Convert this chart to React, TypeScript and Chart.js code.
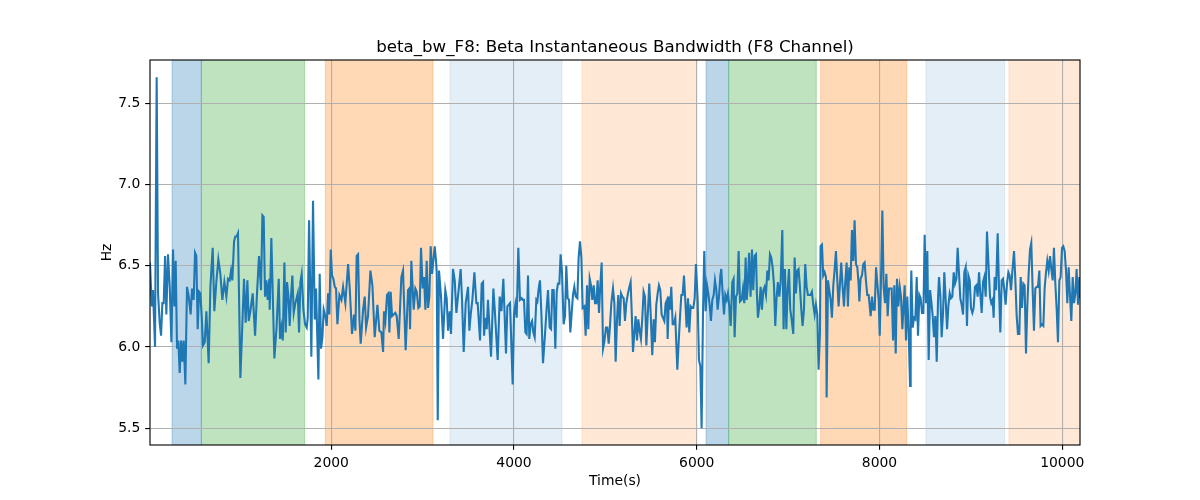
import React, { useEffect, useRef } from "react";
import { Chart, registerables } from "chart.js";

Chart.register(...registerables);

const TITLE = "beta_bw_F8: Beta Instantaneous Bandwidth (F8 Channel)";
const X_LABEL = "Time(s)";
const Y_LABEL = "Hz";

const timeS = [
  16, 35, 49, 71, 89, 104, 122, 137, 151, 166,
  181, 195, 213, 232, 250, 268, 283, 297, 312, 326,
  341, 356, 370, 385, 403, 421, 440, 461, 476, 494,
  509, 523, 538, 553, 567, 582, 596, 615, 633, 658,
  677, 702, 720, 742, 764, 786, 808, 830, 852, 870,
  888, 903, 917, 936, 950, 965, 979, 1005, 1045, 1063,
  1082, 1096, 1114, 1140, 1166, 1187, 1209, 1231, 1246, 1260,
  1275, 1290, 1304, 1322,
  1326, 1344, 1377, 1401, 1425, 1439, 1454, 1469, 1487, 1501,
  1516, 1531, 1545, 1556, 1574, 1589, 1607, 1633, 1647, 1662,
  1676, 1695, 1713, 1731, 1742, 1757, 1782, 1800, 1819, 1833,
  1859, 1873, 1888, 1903, 1917, 1935, 1950, 1965, 1979, 1994,
  2008, 2023, 2038, 2052, 2067, 2089, 2111, 2129, 2154, 2184,
  2202, 2227, 2249, 2264, 2278, 2293, 2308, 2322, 2348, 2366,
  2381, 2402, 2428, 2450, 2475, 2505, 2526, 2548, 2567, 2577,
  2592, 2610, 2625,
  2636, 2650, 2665, 2683, 2701, 2716, 2738, 2767, 2785, 2814,
  2840, 2854, 2862, 2876, 2902, 2920, 2935, 2953, 2968, 2982,
  3000, 3015, 3030, 3044, 3059, 3073, 3088, 3103, 3132, 3146,
  3154, 3165, 3179, 3201, 3223, 3248, 3263, 3278, 3296, 3310,
  3332, 3351, 3369, 3416, 3431, 3449, 3471, 3497, 3511, 3526,
  3544, 3566, 3588, 3602, 3628, 3646, 3661, 3672, 3686, 3701,
  3715, 3748, 3774, 3788, 3821, 3843, 3862, 3883, 3912, 3927,
  3956, 3985, 4000, 4014, 4029, 4047, 4065, 4084, 4095, 4109,
  4124, 4138, 4153, 4167, 4182, 4197, 4211, 4226, 4244, 4255,
  4270, 4284, 4299, 4317, 4339, 4357, 4372, 4390, 4405, 4419,
  4434, 4452, 4467, 4481, 4496, 4510, 4525, 4543, 4558, 4572,
  4587, 4602, 4616, 4631, 4645, 4660, 4675, 4693, 4707, 4722,
  4737, 4751, 4769, 4784, 4799, 4813, 4828, 4842, 4857, 4872,
  4886, 4901, 4915, 4930, 4944, 4959, 4974, 4988, 5006, 5021,
  5036, 5050, 5065, 5083, 5098, 5112, 5127, 5141, 5156, 5171,
  5185, 5200, 5214, 5229, 5247,
  5262, 5276, 5287, 5302, 5316, 5331, 5346, 5360, 5375, 5389,
  5404, 5418, 5433, 5448, 5462, 5480, 5495, 5513, 5528, 5542,
  5557, 5572, 5586, 5601, 5615, 5630, 5645, 5659, 5674, 5681,
  5696, 5707, 5721, 5736, 5750, 5765, 5787, 5801, 5816, 5831,
  5845, 5860, 5874, 5889, 5904, 5918, 5933, 5947, 5962, 5977,
  5991, 6009, 6024, 6039, 6053, 6068, 6082, 6097, 6112, 6126,
  6141, 6155, 6170, 6185, 6199, 6214, 6228, 6243, 6258, 6268,
  6283, 6298, 6312, 6327, 6341, 6356, 6371, 6389, 6403, 6414,
  6429, 6444, 6458, 6473, 6491, 6506, 6520, 6535, 6546, 6557,
  6572, 6589, 6604, 6618, 6633, 6648, 6658, 6669, 6684, 6699,
  6713, 6728, 6742, 6757, 6772, 6786, 6801, 6815, 6830, 6845,
  6859, 6874, 6888, 6903, 6918, 6936, 6950, 6965, 6980, 6994,
  7009, 7023, 7038, 7056, 7071, 7085, 7100, 7114, 7129, 7144,
  7158, 7173, 7187, 7202, 7217, 7231, 7246, 7260, 7275, 7290,
  7304, 7319, 7333, 7348, 7355, 7370, 7384, 7399, 7414, 7421,
  7436, 7450, 7465, 7479, 7494, 7508, 7523, 7538, 7552, 7567,
  7581, 7596, 7611, 7625, 7640, 7654, 7669, 7684, 7698, 7713,
  7727, 7742, 7757, 7771, 7779, 7793, 7808, 7822, 7837, 7851,
  7866, 7881,
  7903, 7918, 7932, 7947, 7962, 7976, 7991, 8002, 8016, 8031,
  8045, 8060, 8075, 8089, 8104, 8118, 8133, 8148, 8162, 8177,
  8191, 8206, 8221, 8235, 8250, 8261, 8275, 8290, 8304, 8319,
  8334, 8341, 8348, 8363, 8377, 8392, 8407, 8421, 8436, 8450,
  8465, 8480, 8494, 8509, 8523, 8538, 8553, 8567, 8582, 8596,
  8611, 8626, 8640, 8651, 8666, 8680, 8695, 8709, 8724, 8739,
  8753, 8768, 8782, 8797, 8812, 8826, 8841, 8855, 8870, 8884,
  8899, 8914, 8928, 8943, 8957, 8972, 8987, 9001, 9016, 9030,
  9045, 9060, 9074, 9089, 9103, 9118, 9133, 9147, 9162, 9176,
  9194, 9209, 9223, 9238, 9249, 9260, 9275, 9293, 9307, 9322,
  9337, 9351, 9366, 9380, 9395, 9410, 9424, 9439, 9453, 9472,
  9486, 9501, 9515, 9530, 9545, 9559, 9574, 9588, 9603, 9617,
  9632, 9647, 9661, 9676, 9690, 9705, 9720, 9734, 9749, 9763,
  9778, 9793, 9807, 9822, 9836, 9851, 9866, 9880, 9895, 9909,
  9924, 9939, 9953, 9968, 9982, 9997, 10011, 10026, 10041, 10055,
  10070, 10084, 10099, 10114, 10128, 10143, 10157, 10172, 10187, 10194,
];

const bandwidthHz = [
  6.52, 6.25, 6.35, 6.00, 7.66, 6.33, 6.15, 6.07, 6.27, 6.27,
  6.56, 6.20, 6.57, 6.37, 6.03, 6.60, 6.25, 6.53, 5.99, 6.04,
  5.84, 6.04, 5.91, 6.04, 5.77, 6.37, 6.31, 6.20, 6.36, 6.29,
  6.58, 6.56, 6.11, 6.34, 6.33, 6.19, 6.01, 6.03, 6.22, 5.90,
  6.37, 6.61, 6.22, 6.40, 6.54, 6.45, 6.29, 6.40, 6.31, 6.42,
  6.41, 6.47, 6.41, 6.65, 6.68, 6.68, 6.70, 5.81, 6.42, 6.15,
  6.41, 6.16, 6.22, 6.33, 6.07, 6.33, 6.56, 6.35, 6.81, 6.80,
  6.31, 6.41, 6.29, 6.42,
  6.23, 6.67, 5.93, 6.12, 6.42, 6.05, 6.12, 6.04, 6.52, 6.09,
  6.40, 6.31, 6.13, 6.28, 6.44, 6.21, 6.27, 6.33, 6.09, 6.40,
  6.45, 6.23, 6.14, 6.12, 6.18, 6.78, 5.94, 6.90, 6.17, 6.36,
  5.80, 6.45, 5.99, 6.06, 6.23, 6.19, 6.13, 6.33, 6.20, 6.60,
  6.44, 6.42, 6.37, 6.36, 6.14, 6.32, 6.29, 6.37, 6.27, 6.51,
  6.36, 6.08, 6.20, 6.10, 6.56, 6.57, 6.17, 6.02, 6.23, 6.31,
  6.12, 6.19, 6.47, 6.38, 6.06, 6.26, 6.10, 6.09, 5.97, 6.22,
  6.16, 6.32, 6.33,
  6.09, 6.34, 6.19, 6.20, 6.21, 6.19, 6.05, 6.43, 6.47, 5.98,
  6.35, 6.36, 6.11, 6.53, 6.23, 6.36, 6.34, 6.24, 6.25, 6.61,
  6.36, 6.43, 6.23, 6.53, 6.24, 6.31, 6.62, 6.45, 6.62, 6.53,
  6.46, 5.55, 6.47, 6.31, 6.05, 6.35, 6.30, 6.10, 6.22, 6.08,
  6.48, 6.41, 6.21, 6.48, 6.29, 5.97, 6.27, 6.37, 6.10, 6.20,
  6.29, 6.46, 6.27, 6.27, 6.04, 6.39, 6.40, 6.07, 6.18, 6.11,
  6.29, 5.94, 6.36, 6.24, 5.92, 6.31, 6.22, 6.42, 5.96, 6.25,
  6.27, 5.77, 6.20, 6.26, 6.18, 6.61, 6.29, 6.30, 6.29, 6.29,
  6.09, 6.08, 6.44, 6.05, 6.14, 6.16, 6.09, 6.06, 6.29, 6.28,
  6.36, 6.41, 6.21, 5.90, 6.08, 6.24, 6.35, 6.12, 6.11, 6.35,
  6.35, 5.99, 6.34, 6.39, 6.39, 6.57, 6.46, 6.14, 6.19, 6.50,
  6.30, 6.29, 6.09, 6.21, 6.32, 6.37, 6.31, 6.30, 6.55, 6.65,
  6.55, 6.24, 6.25, 6.07, 6.38, 6.11, 6.42, 6.38, 6.29, 6.38,
  6.27, 6.27, 6.41, 6.21, 6.38, 6.52, 5.99, 6.03, 6.12, 6.12,
  6.02, 6.13, 6.27, 6.36, 6.27, 5.91, 6.17, 6.32, 6.13, 6.33,
  6.31, 6.30, 6.16, 6.27, 6.33,
  6.37, 6.40, 6.23, 5.97, 6.08, 6.19, 6.04, 6.17, 6.10, 6.05,
  6.18, 6.34, 6.31, 6.01, 6.18, 6.39, 6.21, 5.95, 6.17, 6.03,
  6.26, 6.33, 6.38, 6.35, 6.20, 6.18, 6.16, 6.27, 6.29, 6.05,
  6.31, 6.23, 6.37, 6.14, 6.14, 6.18, 5.86, 6.02, 6.18, 6.32,
  6.32, 6.44, 6.29, 6.12, 6.30, 6.09, 6.25, 6.24, 6.24, 6.30,
  6.51, 6.30, 5.92, 5.88, 5.50, 6.21, 6.59, 6.22, 6.38, 6.33,
  6.26, 6.16, 6.29, 6.32, 6.41, 6.35, 6.23, 6.31, 6.44, 6.48,
  6.33, 6.20, 6.32, 6.29, 6.33, 6.25, 6.13, 6.40, 6.42, 6.06,
  6.31, 6.33, 6.59, 6.28, 6.29, 6.36, 6.27, 6.55, 6.29, 6.36,
  6.58, 6.31, 6.60, 6.35, 6.56, 6.57, 6.33, 6.18, 6.25, 6.37,
  6.23, 6.35, 6.37, 6.32, 6.47, 6.41, 6.57, 6.55, 6.49, 6.38,
  6.13, 6.31, 6.40, 6.31, 6.40, 6.72, 6.11, 6.48, 6.11, 6.35,
  6.48, 6.23, 6.17, 6.08, 6.55, 6.33, 6.47, 6.48, 6.37, 6.23,
  6.13, 6.23, 6.51, 6.37, 6.32, 6.32, 6.32, 6.34, 6.26, 6.20,
  6.26, 6.20, 5.86, 6.09, 6.62, 6.63, 6.44, 6.46, 6.43, 5.69,
  6.41, 6.35, 6.29, 6.18, 6.38, 6.47, 6.59, 6.41, 6.25, 6.39,
  6.52, 6.37, 6.25, 6.40, 6.52, 6.25, 6.49, 6.41, 6.72, 6.53,
  6.78, 6.51, 6.49, 6.39, 6.28, 6.42, 6.44, 6.51, 6.52, 6.41,
  6.32, 6.32,
  6.19, 6.31, 6.23, 6.23, 6.49, 6.39, 6.29, 6.07, 6.41, 6.84,
  6.37, 6.27, 6.45, 6.19, 6.36, 6.36, 6.36, 6.04, 6.38, 5.96,
  6.42, 6.25, 6.37, 6.31, 6.11, 6.23, 6.38, 6.04, 6.31, 6.09,
  5.76, 6.29, 6.47, 6.12, 6.18, 6.17, 6.43, 6.07, 6.32, 6.30,
  6.21, 6.21, 6.69, 6.27, 6.59, 5.92, 6.35, 6.28, 6.19, 6.06,
  6.19, 5.91, 6.29, 6.43, 6.31, 6.06, 6.21, 6.46, 6.29, 6.11,
  6.25, 6.33, 6.30, 6.31, 6.46, 6.39, 6.42, 6.61, 6.45, 6.30,
  6.26, 6.20, 6.46, 6.49, 6.13, 6.44, 6.41, 6.24, 6.21, 6.24,
  6.37, 6.38, 6.31, 6.46, 6.33, 6.21, 6.40, 6.43, 6.31, 6.71,
  6.49, 6.31, 6.27, 6.29, 6.18, 6.43, 6.35, 6.70, 6.37, 6.09,
  6.41, 6.42, 6.35, 6.26, 6.39, 6.46, 6.44, 6.35, 6.46, 6.59,
  6.42, 6.19, 6.08, 6.08, 6.43, 6.24, 6.39, 6.38, 5.96, 6.25,
  6.45, 6.60, 6.64, 6.35, 6.10, 6.36, 6.37, 6.37, 6.47, 6.13,
  6.14, 6.13, 6.36, 6.46, 6.53, 6.47, 6.56, 6.48, 6.41, 6.61,
  6.39, 6.23, 6.03, 6.41, 6.43, 6.61, 6.62, 6.59, 6.47, 6.27,
  6.49, 6.32, 6.16, 6.43, 6.27, 6.33, 6.48, 6.26, 6.43, 6.30,
];

// Shaded state intervals (seconds) and their kind
const bandStart = [257, 578, 1935, 3299, 4744, 6101, 6349, 7356, 8508, 9416];
const bandEnd = [578, 1709, 3113, 4525, 5999, 6349, 7308, 8297, 9369, 10260];
const bandKind = ["blue", "green", "orange", "lightblue", "lightorange", "blue", "green", "orange", "lightblue", "lightorange"];

const xTicks = [2000, 4000, 6000, 8000, 10000];
const yTicks = [5.5, 6.0, 6.5, 7.0, 7.5];
const xRange = [16, 10194];
const yRange = [5.397, 7.766];

const BAND_COLORS: Record<string, string> = {
  blue: "rgba(31,119,180,0.3)",
  green: "rgba(44,160,44,0.3)",
  orange: "rgba(255,127,14,0.3)",
  lightblue: "rgba(31,119,180,0.12)",
  lightorange: "rgba(255,127,14,0.17)",
};

const FONT = '"DejaVu Sans", "Liberation Sans", sans-serif';
const PT = 100 / 72;

export default function App() {
  const ref = useRef<HTMLCanvasElement>(null);

  useEffect(() => {
    const canvas = ref.current;
    if (!canvas) return;

    const overlay = {
      id: "overlay",
      beforeDraw(chart: any) {
        const { ctx, chartArea: a, scales } = chart;
        const xs = scales.x;
        ctx.save();
        ctx.beginPath();
        ctx.rect(a.left, a.top, a.right - a.left, a.bottom - a.top);
        ctx.clip();
        bandStart.forEach((s: number, i: number) => {
          const x0 = xs.getPixelForValue(s);
          const x1 = xs.getPixelForValue(bandEnd[i]);
          const c = BAND_COLORS[bandKind[i]];
          ctx.fillStyle = c;
          ctx.fillRect(x0, a.top, x1 - x0, a.bottom - a.top);
          ctx.strokeStyle = c;
          ctx.lineWidth = 1;
          ctx.beginPath();
          ctx.moveTo(x0, a.top);
          ctx.lineTo(x0, a.bottom);
          ctx.moveTo(x1, a.top);
          ctx.lineTo(x1, a.bottom);
          ctx.stroke();
        });
        ctx.restore();
      },
      afterDraw(chart: any) {
        const { ctx, chartArea: a } = chart;
        ctx.save();
        ctx.strokeStyle = "#000";
        ctx.lineWidth = 0.8 * PT;
        ctx.strokeRect(a.left, a.top, a.right - a.left, a.bottom - a.top);
        const cx = (a.left + a.right) / 2;
        ctx.fillStyle = "#000";
        ctx.font = `16.67px ${FONT}`;
        ctx.textAlign = "center";
        ctx.textBaseline = "alphabetic";
        ctx.fillText(TITLE, cx, a.top - 8.5);
        ctx.font = `13.9px ${FONT}`;
        ctx.textBaseline = "top";
        ctx.fillText(X_LABEL, cx, 474);
        ctx.translate(107, (a.top + a.bottom) / 2);
        ctx.rotate(-Math.PI / 2);
        ctx.textBaseline = "middle";
        ctx.fillText(Y_LABEL, 0, 0);
        ctx.restore();
      },
    };

    const tickFont = { family: FONT, size: 13.9 };
    const gridOpts = {
      color: "#b0b0b0",
      lineWidth: 0.8 * PT,
      tickColor: "#000",
      tickLength: 3.5 * PT,
      tickWidth: 0.8 * PT,
    };

    const chart = new Chart(canvas, {
      type: "line",
      data: {
        datasets: [
          {
            data: timeS.map((t, i) => ({ x: t, y: bandwidthHz[i] })),
            borderColor: "#1f77b4",
            borderWidth: 1.5 * PT,
            pointRadius: 0,
            tension: 0,
            fill: false,
          },
        ],
      },
      options: {
        responsive: false,
        animation: false,
        devicePixelRatio: 1,
        layout: { padding: { left: 0, right: 120, top: 60, bottom: 0 } },
        plugins: {
          legend: { display: false },
          title: { display: false },
          tooltip: { enabled: false },
        },
        scales: {
          x: {
            type: "linear",
            min: xRange[0],
            max: xRange[1],
            afterBuildTicks: (scale: any) => {
              scale.ticks = xTicks.map((v) => ({ value: v }));
            },
            afterFit: (scale: any) => {
              scale.height = 55;
            },
            grid: gridOpts,
            border: { display: false },
            ticks: {
              color: "#000",
              font: tickFont,
              padding: 3.5 * PT,
              maxRotation: 0,
              autoSkip: false,
              callback: (v: any) => String(v),
            },
          },
          y: {
            type: "linear",
            min: yRange[0],
            max: yRange[1],
            afterBuildTicks: (scale: any) => {
              scale.ticks = yTicks.map((v) => ({ value: v }));
            },
            afterFit: (scale: any) => {
              scale.width = 150;
            },
            grid: gridOpts,
            border: { display: false },
            ticks: {
              color: "#000",
              font: tickFont,
              padding: 3.5 * PT,
              autoSkip: false,
              callback: (v: any) => Number(v).toFixed(1),
            },
          },
        },
      },
      plugins: [overlay],
    } as any);

    return () => chart.destroy();
  }, []);

  return (
    <div style={{ position: "absolute", left: 0, top: 0, width: 1200, height: 500, background: "#fff" }}>
      <canvas ref={ref} width={1200} height={500} style={{ display: "block" }} />
    </div>
  );
}
